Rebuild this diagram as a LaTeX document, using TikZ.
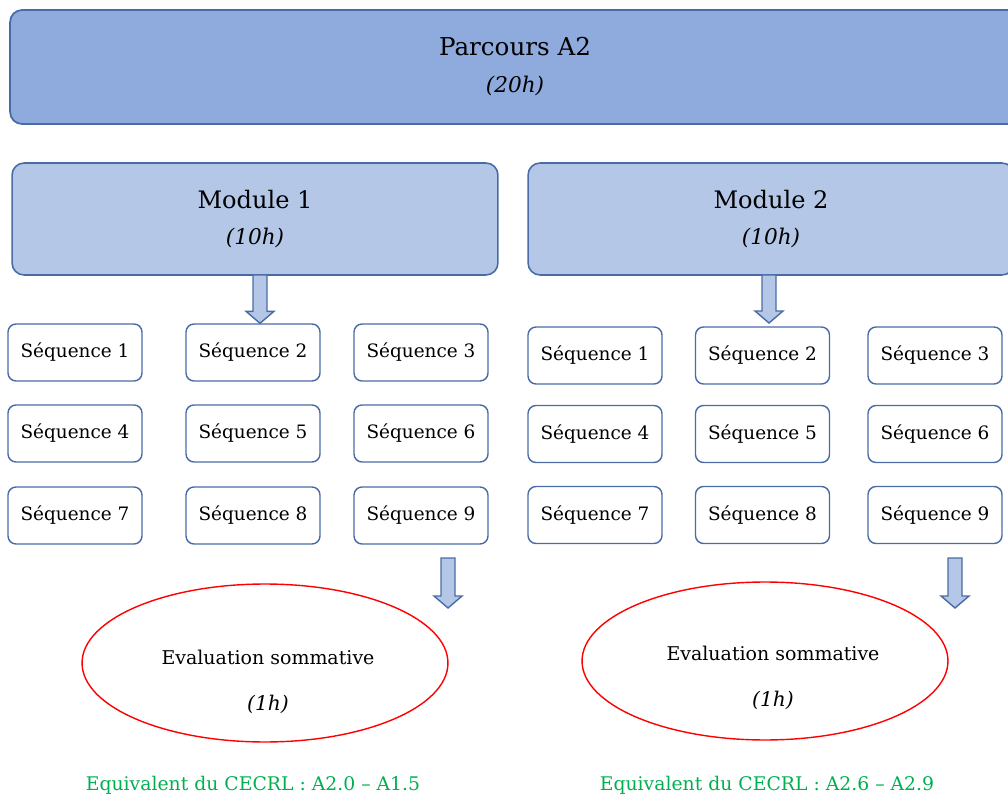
\documentclass[tikz,border=0pt]{standalone}
\usepackage{fontspec}
\setmainfont{DejaVu Serif}
\usetikzlibrary{calc,shapes.geometric}
\definecolor{parcoursfill}{HTML}{8FAADC}
\definecolor{modulefill}{HTML}{B4C7E7}
\definecolor{boxline}{HTML}{4A6BA6}
\definecolor{cecrlgreen}{HTML}{00B050}
\def\blockarr(#1)(#2){\draw[blockarrow] (#2) -- ([shift={(-14,-12)}]#2) -- ([shift={(-7,-12)}]#2) -- ([shift={(-7,0)}]#1) -- ([shift={(7,0)}]#1) -- ([shift={(7,-12)}]#2) -- ([shift={(14,-12)}]#2) -- cycle;}
\tikzset{
	parcours/.style={draw=boxline, line width=1pt, fill=parcoursfill, rounded corners=0.24cm, minimum width=20.2cm, minimum height=2.28cm, align=center, font=\fontsize{14}{17}\selectfont},
	module/.style={draw=boxline, line width=0.9pt, fill=modulefill, rounded corners=0.24cm, minimum width=9.72cm, minimum height=2.24cm, align=center, font=\fontsize{13.7}{17}\selectfont},
	seqbox/.style={draw=boxline, line width=0.8pt, fill=white, rounded corners=0.16cm, minimum width=2.68cm, minimum height=1.14cm, font=\fontsize{10.5}{12}\selectfont},
	evalellipse/.style={ellipse, draw=red, line width=0.8pt, minimum width=7.32cm, minimum height=3.16cm},
	evaltext/.style={align=center, font=\fontsize{10.8}{13}\selectfont},
	blockarrow/.style={draw=boxline, fill=modulefill, line width=0.8pt, line join=miter},
	cecrl/.style={text=cecrlgreen, font=\fontsize{10.7}{13}\selectfont}
}
\begin{document}
\begin{tikzpicture}[x=0.02cm, y=-0.02cm]
			%%%%% START %%%%%
			\clip (0,0) rectangle (1008,797);
			
			\node[parcours] (parcours) at (515,67) {Parcours A2\\[4pt]{\itshape\fontsize{12.3}{15}\selectfont (20h)}};
			
			\node[module] (m1) at (255,219) {Module 1\\[3pt]{\itshape\fontsize{12.3}{15}\selectfont (10h)}};
			\node[module] (m2) at (771,219) {Module 2\\[3pt]{\itshape\fontsize{12.3}{15}\selectfont (10h)}};
			
			% module 1
			\node[seqbox] (m1s1) at (75,352.5) {Séquence 1};
			\node[seqbox] (m1s2) at (253,352.5) {Séquence 2};
			\node[seqbox] (m1s3) at (421,352.5) {Séquence 3};
			\node[seqbox] (m1s4) at (75,433.5) {Séquence 4};
			\node[seqbox] (m1s5) at (253,433.5) {Séquence 5};
			\node[seqbox] (m1s6) at (421,433.5) {Séquence 6};
			\node[seqbox] (m1s7) at (75,515.5) {Séquence 7};
			\node[seqbox] (m1s8) at (253,515.5) {Séquence 8};
			\node[seqbox] (m1s9) at (421,515.5) {Séquence 9};
			
			% module 2
			\node[seqbox] (m2s1) at (595,355.5) {Séquence 1};
			\node[seqbox] (m2s2) at (762.5,355.5) {Séquence 2};
			\node[seqbox] (m2s3) at (935,355.5) {Séquence 3};
			\node[seqbox] (m2s4) at (595,434) {Séquence 4};
			\node[seqbox] (m2s5) at (762.5,434) {Séquence 5};
			\node[seqbox] (m2s6) at (935,434) {Séquence 6};
			\node[seqbox] (m2s7) at (595,515) {Séquence 7};
			\node[seqbox] (m2s8) at (762.5,515) {Séquence 8};
			\node[seqbox] (m2s9) at (935,515) {Séquence 9};
			
			\node[evalellipse] (eval1) at (265,663) {};
			\node[evaltext] (eval1txt) at (268,682) {Evaluation sommative\\[13pt]{\itshape\fontsize{11.5}{13}\selectfont (1h)}};
			\node[evalellipse] (eval2) at (765,661) {};
			\node[evaltext] (eval2txt) at (773,678) {Evaluation sommative\\[13pt]{\itshape\fontsize{11.5}{13}\selectfont (1h)}};
			
			\node[cecrl] (cecrl1) at (253,785) {Equivalent du CECRL : A2.0 – A1.5};
			\node[cecrl] (cecrl2) at (767,785) {Equivalent du CECRL : A2.6 – A2.9};
			
			% arrows
			\coordinate (a1top) at (260,275);
			\coordinate (a1tip) at (a1top |- m1s2.north);
			\blockarr(a1top)(a1tip)
			\coordinate (a2top) at (769,275);
			\coordinate (a2tip) at (769,323);
			\blockarr(a2top)(a2tip)
			\coordinate (a3top) at (448,558);
			\coordinate (a3tip) at (448,608);
			\blockarr(a3top)(a3tip)
			\coordinate (a4top) at (955,558);
			\coordinate (a4tip) at (955,608);
			\blockarr(a4top)(a4tip)
			
			%%%%% END %%%%%
\end{tikzpicture}
\end{document}
